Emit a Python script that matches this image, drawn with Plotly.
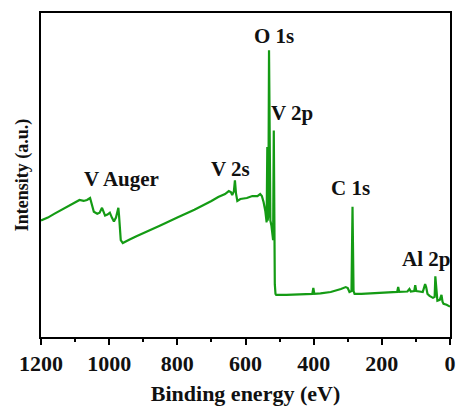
import plotly.graph_objects as go

# Survey XPS spectrum: binding energy (eV) and intensity (a.u.)
binding_energy = [
    1200, 1180, 1160, 1140, 1120, 1100, 1087, 1075, 1065, 1056, 1050, 1045,
    1035, 1028, 1021, 1016, 1012, 1005, 998, 992, 986, 980, 975, 973, 971,
    968, 966, 960, 955, 940, 920, 900, 850, 800, 750, 700, 680, 660, 649,
    643, 639, 634, 631, 628, 624, 615, 596, 580, 565, 557, 552, 547, 542,
    538, 537, 536, 535, 533, 531, 529, 527, 524, 522, 519, 517, 515, 514,
    512, 510, 480, 450, 420, 404, 401, 398, 380, 350, 320, 306, 300, 295,
    289, 286, 283, 280, 260, 220, 191, 160, 155, 152, 149, 125, 119, 115,
    105, 102, 99, 90, 80, 73, 70, 66, 60, 50, 45, 43, 40, 37, 30, 25, 22,
    19, 10, 5, 0,
]
intensity = [
    119, 122, 126, 130, 134, 138, 140, 139, 140, 142, 134, 128,
    126, 127, 132, 127, 124, 125, 127, 122, 118, 122, 131, 132, 124,
    109, 99, 96, 97, 99.5, 103, 106, 114, 122, 130, 139, 143, 146, 149,
    148, 145, 149, 160, 147, 139, 141, 142, 144, 144, 146, 144, 138, 129,
    117, 140, 194, 119, 124, 293, 134, 119, 114, 104, 99, 211, 84, 54,
    44, 43, 43, 43.5, 44, 44, 50, 44, 44.5, 46, 49, 51, 50, 46,
    47, 133, 47, 44, 44, 44.5, 45, 45.5, 46, 51, 46, 46.5, 49, 46.5,
    47, 53, 47, 46.5, 46, 54, 51, 44, 42, 40, 41, 62, 49, 37, 38, 43, 36,
    34, 33, 32, 31,
]

# Peak labels: (text, binding energy, intensity)
peak_labels = ["O 1s", "V 2p", "V 2s", "V Auger", "C 1s", "Al 2p"]
label_energy = [515, 463, 645, 963, 292, 69]
label_intensity = [307, 229, 172, 161, 152, 80]

x_ticks = [1200, 1000, 800, 600, 400, 200, 0]

FONT = "Liberation Serif"
GREEN = "#149b14"

fig = go.Figure()
fig.add_trace(go.Scatter(
    x=binding_energy, y=intensity, mode="lines",
    line=dict(color=GREEN, width=2.2), showlegend=False,
))

for txt, ex, iy in zip(peak_labels, label_energy, label_intensity):
    fig.add_annotation(
        x=ex, y=iy, text=txt, showarrow=False,
        font=dict(family=FONT, size=21, color="#111111", weight="bold"),
        xanchor="center", yanchor="middle",
    )

fig.update_layout(
    width=463, height=409,
    margin=dict(l=41, r=7, t=13, b=65),
    paper_bgcolor="white", plot_bgcolor="white",
    font=dict(family=FONT, size=21, color="#111111", weight="bold"),
    xaxis=dict(
        range=[1200, 0], tickvals=x_ticks, ticktext=[str(v) for v in x_ticks],
        ticks="outside", ticklen=6, tickwidth=1.5, tickcolor="black",
        minor=dict(dtick=100, ticks="outside", ticklen=3, tickwidth=1.5,
                   tickcolor="black"),
        showline=True, linecolor="black", linewidth=1.5, mirror=True,
        showgrid=False, zeroline=False,
        tickfont=dict(family=FONT, size=22, weight="bold"),
        title=dict(text="Binding energy (eV)", standoff=10,
                   font=dict(family=FONT, size=22, weight="bold")),
    ),
    yaxis=dict(
        range=[0, 331], showticklabels=False, ticks="",
        showline=True, linecolor="black", linewidth=1.5, mirror=True,
        showgrid=False, zeroline=False,
        title=dict(text="Intensity (a.u.)", standoff=6,
                   font=dict(family=FONT, size=18, weight="bold")),
    ),
)

fig.write_html("out.html")
